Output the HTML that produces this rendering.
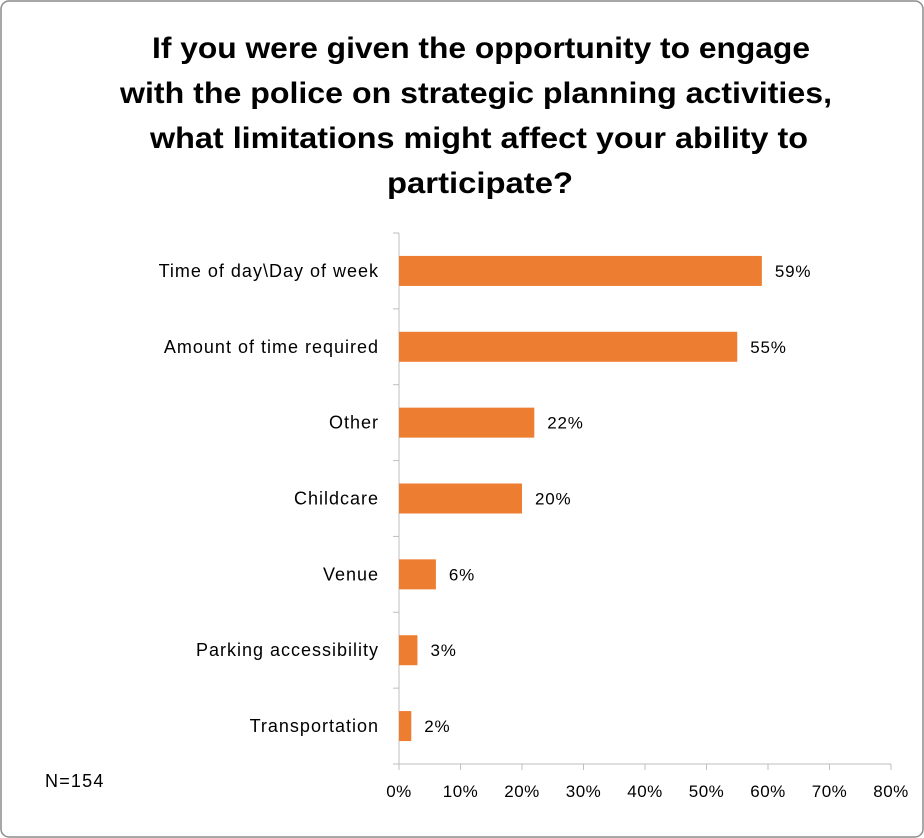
<!DOCTYPE html>
<html><head><meta charset="utf-8"><style>
html,body{margin:0;padding:0;background:#fff;}
svg{display:block;font-family:"Liberation Sans",sans-serif;}
</style></head><body>
<svg id="chart" width="924" height="838" viewBox="0 0 924 838">
<rect x="1" y="1" width="922" height="836" rx="8" fill="#fff" stroke="#8c8c8c" stroke-width="1.5"/>
<g font-weight="bold" font-size="30" fill="#000" text-anchor="middle">
<text x="481" y="58" textLength="658" lengthAdjust="spacingAndGlyphs">If you were given the opportunity to engage</text>
<text x="476" y="103" textLength="712" lengthAdjust="spacingAndGlyphs">with the police on strategic planning activities,</text>
<text x="479" y="148" textLength="658" lengthAdjust="spacingAndGlyphs">what limitations might affect your ability to</text>
<text x="480" y="193" textLength="186" lengthAdjust="spacingAndGlyphs">participate?</text>
</g>
<g id="plot"></g>
<text x="45" y="787" font-size="18" letter-spacing="1.2" fill="#000">N=154</text>
</svg>
<script>
const categories = ["Time of day\\Day of week","Amount of time required","Other","Childcare","Venue","Parking accessibility","Transportation"];
const values = [59,55,22,20,6,3,2];
const ticks = [0,10,20,30,40,50,60,70,80];
const tickLabels = ["0%","10%","20%","30%","40%","50%","60%","70%","80%"];

const x0=399, xMax=891, yTop=233, yBot=764;
const xs = v => x0 + (v/80)*(xMax-x0);
const band = (yBot-yTop)/categories.length;
const ys = i => yTop + band*i + band/2;
const NS="http://www.w3.org/2000/svg";
const g=document.getElementById('plot');
function mk(t,a){const e=document.createElementNS(NS,t);for(const k in a)e.setAttribute(k,a[k]);g.appendChild(e);return e;}

let ax=mk('line',{x1:x0,y1:yTop,x2:x0,y2:yBot,stroke:'#bfbfbf','stroke-width':1});


let bx=mk('line',{x1:x0,y1:yBot,x2:xMax,y2:yBot,stroke:'#bfbfbf','stroke-width':1});


for(let i=0;i<=categories.length;i++){
  const y=yTop+band*i;
  let t=mk('line',{x1:x0-6,y1:y,x2:x0,y2:y,stroke:'#bfbfbf'});
  
  
}
ticks.forEach((v,i)=>{
  let t=mk('line',{x1:xs(v),y1:yBot,x2:xs(v),y2:yBot+6,stroke:'#bfbfbf'});
  
  
  let l=mk('text',{x:xs(v),y:797,'font-size':17,'letter-spacing':0.5,'text-anchor':'middle',fill:'#000'});
  l.textContent=tickLabels[i];
  
  
});
categories.forEach((c,i)=>{
  const y=ys(i);
  let b=mk('rect',{x:x0,y:y-15,width:xs(values[i])-x0,height:30,fill:'#ed7d31'});
  
  
  let l=mk('text',{x:379,y:y+6,'font-size':18,'letter-spacing':1,'text-anchor':'end',fill:'#000'});
  l.textContent=c;
  
  
  let v=mk('text',{x:xs(values[i])+13,y:y+6,'font-size':17,'letter-spacing':0.8,fill:'#000'});
  v.textContent=values[i]+'%';
  
  
});
</script>
</body></html>
